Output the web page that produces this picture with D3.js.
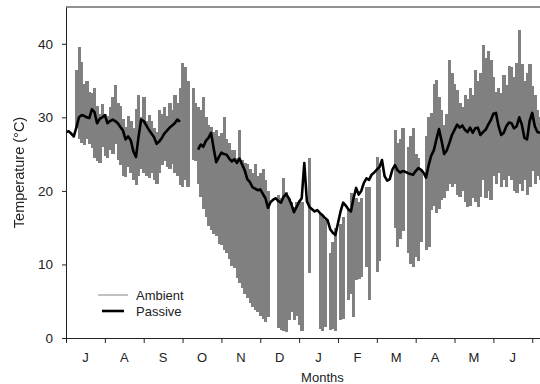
<!DOCTYPE html>
<html>
<head>
<meta charset="utf-8">
<script src="https://cdn.jsdelivr.net/npm/d3@7"></script>
<style>
  body { margin: 0; background: #fff; }
  svg { display: block; }
  text { font-family: "Liberation Sans", Arial, sans-serif; fill: #222; }
</style>
</head>
<body>
<svg id="chart" width="540" height="384"></svg>
<script>
// Month initials, July through June
const monthLabels = ["J", "A", "S", "O", "N", "D", "J", "F", "M", "A", "M", "J"];
const yTicks = [0, 10, 20, 30, 40];
// Readings are stored every 1/15 of a month (about two days)
const samplesPerMonth = 15;

// Ambient air temperature: high and low of each reading period (°C), null where no record
const ambientHigh = [
  null, null, null, null, 36.5, 39.6, 37.5, 34.5, 35.0, 33.5, 33.3, 34.0, 31.5, 30.5, 31.8,
  30.5, 30.2, 31.4, 32.8, 34.4, 32.0, 31.5, 29.8, 28.7, 30.2, 29.5, 28.5, 31.2, 33.0, 30.0,
  32.8, 29.5, 30.3, 29.5, 28.5, 28.0, 31.0, 30.5, 31.4, 30.2, 32.0, 31.0, 33.0, 32.0, 34.0,
  37.4, 36.9, 35.0, null, 34.0, 32.0, 31.4, 31.0, 32.7, 30.0, 29.0, 28.7, 28.0, 28.3, 27.5,
  27.9, 30.0, 27.0, 26.5, 25.5, 25.6, 24.5, 28.3, 24.2, 23.8, 23.6, 23.0, 22.4, 23.6, 22.0,
  22.4, 23.0, 21.5, 20.0, null, null, null, 19.5, 19.0, 21.7, 19.8, 19.0, 18.5, 17.8, 18.5,
  18.8, 18.5, null, null, 24.5, null, null, null, 17.0, 16.5, 16.0, null, 11.5, 13.0, 15.0,
  null, 15.5, 16.5, null, 17.4, 19.7, 19.5, 19.0, 18.5, 19.0, null, 20.5, 20.5, null, null,
  24.6, 23.0, null, null, null, null, null, 28.3, 26.5, 27.0, 28.6, null, 26.0, 27.5, 28.5,
  25.0, 24.5, 23.0, null, 27.5, 30.0, 30.6, 34.5, 35.1, 32.8, 31.0, 29.0, 30.5, 37.8, 36.0,
  34.5, 33.7, 32.0, 31.4, 33.0, 32.5, 34.0, 33.0, 36.5, 35.0, 36.0, 39.9, 38.0, 39.0, 37.8,
  35.5, 33.5, 34.0, 33.3, 35.7, 34.4, 37.0, 36.9, 35.5, 37.4, 41.9, 37.2, 35.0, 36.0, 37.2,
  34.2, 33.0, 31.0, 30.0
];
const ambientLow = [
  null, null, null, null, 28.5, 27.0, 26.5, 26.3, 27.0, 26.4, 25.8, 24.5, 24.0, 23.8, 26.0,
  24.8, 24.5, 25.5, 25.0, 26.4, 24.2, 23.5, 22.0, 21.9, 23.2, 22.5, 21.5, 20.8, 22.0, 23.0,
  22.4, 22.0, 21.8, 22.5, 21.5, 21.0, 22.5, 23.5, 24.0, 23.3, 23.0, 23.6, 22.5, 22.0, 20.8,
  20.5, 21.5, 20.5, null, 24.2, 24.0, 21.0, 19.2, 17.5, 16.5, 15.2, 14.7, 14.2, 13.8, 12.8,
  12.6, 12.0, 11.5, 10.8, 9.8, 9.5, 8.2, 7.5, 6.8, 6.0, 5.4, 4.8, 4.2, 3.8, 3.6,
  3.0, 2.6, 2.2, 2.8, null, null, null, 1.4, 1.1, 0.9, 0.8, 2.4, 3.5, 2.5, 3.0,
  1.8, 1.0, null, null, 8.8, null, null, null, 1.2, 1.0, 1.5, null, 1.1, 1.2, 1.0,
  null, 2.4, 2.6, null, 5.2, 6.0, 2.9, 7.9, 8.0, 8.3, null, 9.7, 5.2, null, null,
  9.0, 10.5, null, null, null, null, null, 15.0, 12.4, 13.5, 14.5, null, 11.5, 10.0, 9.7,
  11.0, 10.5, 13.0, null, 12.0, 12.4, 17.4, 18.0, 17.0, 17.5, 18.8, 19.0, 20.0, 21.0, 20.5,
  21.0, 19.5, 19.2, 20.0, 18.5, 17.8, 18.0, 19.0, 18.5, 17.8, 19.2, 21.5, 19.0, 20.0, 18.8,
  22.0, 21.0, 22.5, 20.5, 21.5, 20.5, 22.0, 21.5, 20.0, 19.7, 21.0, 20.0, 21.5, 19.5, 20.5,
  22.7, 21.0, 22.0, 21.5
];

// Passive structure temperature (°C), null where no record
const passive = [
  28.0, 28.1, 27.8, 27.4, 28.6, 30.0, 30.3, 30.2, 30.0, 29.9, 31.1, 30.7, 29.2, 29.8, 30.0,
  30.3, 29.2, 29.5, 29.7, 29.5, 29.2, 28.7, 28.2, 27.0, 27.4, 26.9, 25.4, 24.6, 27.3, 29.7,
  29.5, 28.9, 28.3, 27.8, 27.3, 26.4, 26.7, 27.2, 27.8, 28.2, 28.6, 28.9, 29.2, 29.7, 29.4,
  null, null, null, null, null, null, 25.6, 26.3, 26.0, 26.8, 27.2, 27.9, 25.8, 23.9, 24.6,
  25.2, 25.0, 24.9, 24.4, 24.0, 24.3, 23.8, 24.4, 23.6, 22.8, 21.6, 21.2, 20.5, 20.3, 20.1,
  20.2, 19.6, 19.0, 17.7, 18.5, 18.8, 19.0, 18.6, 18.4, 19.2, 19.6, 19.0, 18.2, 17.1, 17.8,
  18.5, 19.0, 23.8, 18.6, 17.8, 17.5, 17.2, 17.4, 17.0, 16.7, 16.3, 16.0, 14.8, 14.3, 14.0,
  15.6, 17.2, 18.4, 18.0, 17.5, 17.2, 19.0, 20.4, 19.5, 20.0, 21.1, 21.7, 21.5, 22.2, 22.5,
  22.9, 23.2, 24.2, 22.0, 21.4, 21.6, 22.9, 23.5, 22.8, 22.5, 22.7, 22.6, 22.4, 22.3, 22.2,
  22.7, 23.1, 22.9, 22.5, 21.8, 23.5, 24.8, 25.5, 27.0, 28.4, 26.8, 25.0, 25.5, 26.5, 27.6,
  28.3, 29.0, 28.6, 28.9, 28.3, 28.0, 28.6, 27.9, 28.5, 28.6, 27.6, 28.0, 28.3, 29.0, 29.6,
  30.5, 30.6, 28.8, 27.6, 27.9, 28.8, 29.3, 29.2, 28.5, 28.8, 30.0, 29.0, 27.2, 27.0, 29.5,
  30.6, 28.8, 28.0, 27.9
];

const svg = d3.select("#chart");
const step = 1 / samplesPerMonth;
const monthSpan = (passive.length - 1) * step;

const x = d3.scaleLinear().domain([0, monthSpan]).range([66, 540]);
const y = d3.scaleLinear().domain([0, 45]).range([338, 7]);

svg.append("defs").append("clipPath").attr("id", "plot")
  .append("rect")
  .attr("x", x(0)).attr("y", y(45))
  .attr("width", x(monthSpan) - x(0)).attr("height", y(0) - y(45));

const plot = svg.append("g").attr("clip-path", "url(#plot)");

// Ambient: one vertical bar per reading period, spanning low to high
const ambientBars = ambientHigh
  .map((hi, i) => ({ m: i * step, hi, lo: ambientLow[i] }))
  .filter(d => d.hi != null && d.lo != null);

const barW = x(step) - x(0);
plot.append("g")
  .attr("shape-rendering", "crispEdges")
  .selectAll("rect")
  .data(ambientBars)
  .join("rect")
  .attr("x", d => x(d.m) - barW / 2)
  .attr("width", barW + 0.6)
  .attr("y", d => y(d.hi))
  .attr("height", d => y(d.lo) - y(d.hi))
  .attr("fill", "#808080");

plot.append("path")
  .datum(passive.map((v, i) => ({ m: i * step, v })))
  .attr("fill", "none")
  .attr("stroke", "#000")
  .attr("stroke-width", 2.6)
  .attr("stroke-linejoin", "round")
  .attr("d", d3.line().defined(d => d.v != null).x(d => x(d.m)).y(d => y(d.v)));

// Frame: top edge
svg.append("line")
  .attr("x1", x(0)).attr("x2", x(monthSpan))
  .attr("y1", y(45)).attr("y2", y(45))
  .attr("stroke", "#222").attr("stroke-width", 1);

// Y axis
const yAxis = svg.append("g")
  .attr("transform", `translate(${x(0)},0)`)
  .call(d3.axisLeft(y).tickValues(yTicks).tickSize(4).tickSizeOuter(0).tickPadding(9));
yAxis.selectAll("text").attr("font-size", 13.5).attr("font-family", null).style("fill", "#222");
yAxis.selectAll("path, line").attr("stroke", "#222");

// X axis: ticks at month boundaries, labels centred in each month
const xAxis = svg.append("g")
  .attr("transform", `translate(0,${y(0)})`)
  .call(d3.axisBottom(x).tickValues(d3.range(0, monthLabels.length + 1)).tickSize(5).tickSizeOuter(0).tickFormat(""));
xAxis.selectAll("path, line").attr("stroke", "#222");

svg.append("g").selectAll("text")
  .data(monthLabels)
  .join("text")
  .attr("x", (d, i) => x(i + 0.5))
  .attr("y", 361.5)
  .attr("text-anchor", "middle")
  .attr("font-size", 13)
  .text(d => d);

svg.append("text")
  .attr("x", x(6.6))
  .attr("y", 381.5)
  .attr("text-anchor", "middle")
  .attr("font-size", 13)
  .text("Months");

svg.append("text")
  .attr("transform", `translate(24,${y(22.5)}) rotate(-90)`)
  .attr("text-anchor", "middle")
  .attr("font-size", 14.5)
  .style("fill", "#222")
  .style("filter", "grayscale(1)")
  .text("Temperature (°C)");

// Legend
const legend = svg.append("g");
legend.append("line").attr("x1", 98).attr("x2", 128).attr("y1", 295).attr("y2", 295)
  .attr("stroke", "#999").attr("stroke-width", 1.2);
legend.append("line").attr("x1", 102).attr("x2", 124).attr("y1", 311).attr("y2", 311)
  .attr("stroke", "#000").attr("stroke-width", 2.6);
legend.append("text").attr("x", 136).attr("y", 299.5).attr("font-size", 13).text("Ambient");
legend.append("text").attr("x", 136).attr("y", 315.5).attr("font-size", 13).text("Passive");
</script>
</body>
</html>
